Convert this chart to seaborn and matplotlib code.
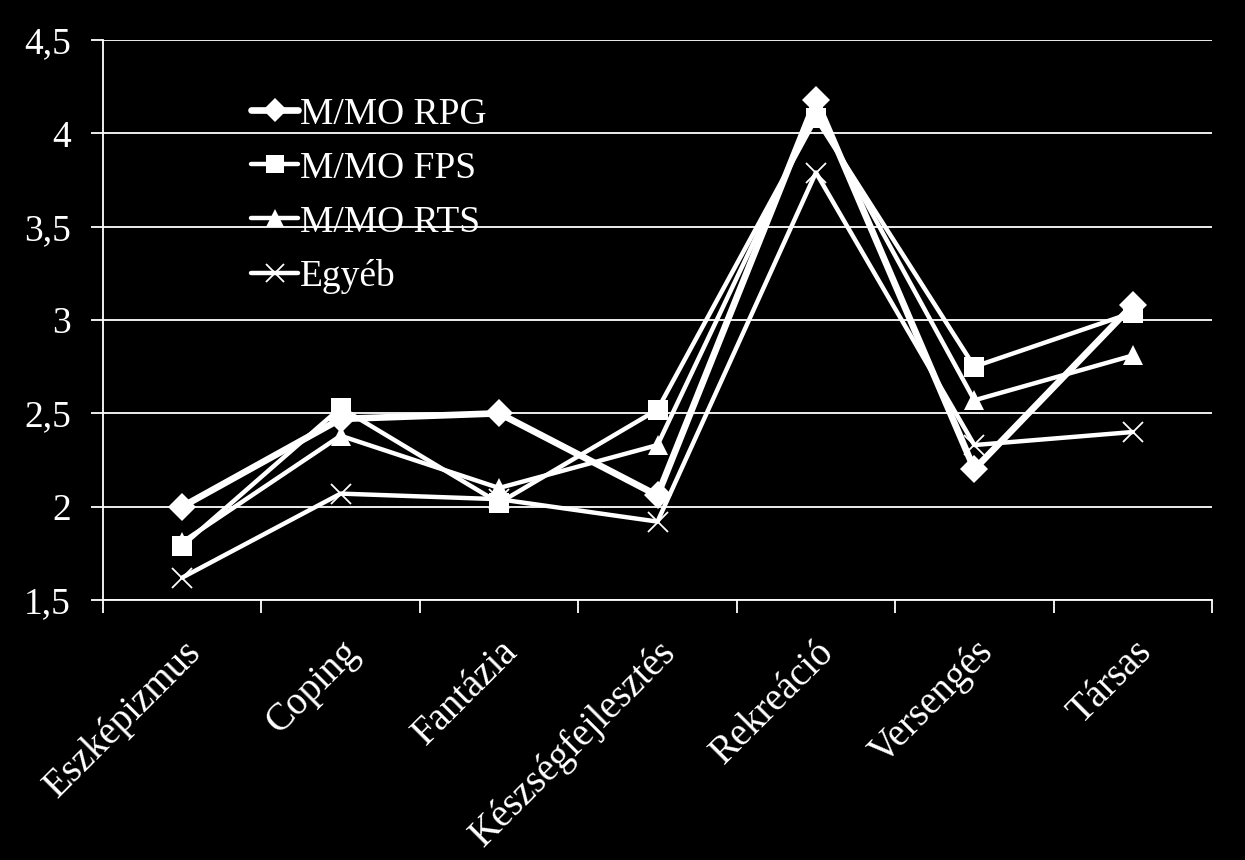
import numpy as np
import pandas as pd
import matplotlib
matplotlib.use("Agg")
import matplotlib.pyplot as plt
import seaborn as sns

categories = ["Eszképizmus", "Coping", "Fantázia", "Készségfejlesztés",
              "Rekreáció", "Versengés", "Társas"]
rpg = [2.00, 2.47, 2.50, 2.06, 4.18, 2.20, 3.08]
fps = [1.79, 2.53, 2.02, 2.52, 4.08, 2.75, 3.04]
rts = [1.81, 2.38, 2.10, 2.33, 4.12, 2.57, 2.81]
egyeb = [1.62, 2.07, 2.04, 1.92, 3.79, 2.33, 2.40]
series_names = ["M/MO RPG", "M/MO FPS", "M/MO RTS", "Egyéb"]
y_ticks = [1.5, 2, 2.5, 3, 3.5, 4, 4.5]
y_tick_labels = ["1,5", "2", "2,5", "3", "3,5", "4", "4,5"]

sns.set_theme(style="white")
plt.rcParams["font.family"] = ["Liberation Serif", "DejaVu Serif"]

pos = np.arange(len(categories))
frames = []
for name, vals in zip(series_names, [rpg, fps, rts, egyeb]):
    frames.append(pd.DataFrame({"x": pos, "y": vals, "series": name}))
df = pd.concat(frames, ignore_index=True)

fig = plt.figure(figsize=(12.45, 8.6), dpi=100, facecolor="black")
ax = fig.add_axes([103 / 1245, 1 - 600 / 860, (1212 - 103) / 1245, (600 - 40) / 860])
ax.set_facecolor("black")

styles = {
    "M/MO RPG": dict(marker="D", markersize=14, lw=4.8, mew=0),
    "M/MO FPS": dict(marker="s", markersize=14, lw=3.2, mew=0),
    "M/MO RTS": dict(marker="^", markersize=15, lw=3.2, mew=0),
    "Egyéb": dict(marker="x", markersize=15, lw=3.2, mew=1.3),
}
for name in series_names:
    st = styles[name]
    sub = df[df["series"] == name]
    sns.lineplot(data=sub, x="x", y="y", ax=ax, color="white", lw=st["lw"],
                 marker=st["marker"], markersize=st["markersize"],
                 markeredgewidth=st["mew"], markeredgecolor="white",
                 markerfacecolor="white", label=name, sort=False,
                 errorbar=None)

ax.set_xlim(-0.5, len(categories) - 0.5)
ax.set_ylim(1.5, 4.5)
ax.set_yticks(y_ticks)
ax.set_yticklabels(y_tick_labels)
ax.yaxis.grid(True, color="white", lw=1.3)
ax.xaxis.grid(False)

ax.set_xticks(pos)
ax.set_xticklabels(categories, rotation=45, ha="right", rotation_mode="anchor")
ax.set_xticks(np.arange(len(categories) + 1) - 0.5, minor=True)
ax.tick_params(axis="x", which="major", bottom=True, length=0, pad=24,
               labelsize=28, colors="white")
ax.tick_params(axis="x", which="minor", bottom=True, length=9, width=1.3,
               color="white", direction="out")
ax.tick_params(axis="y", which="major", left=True, length=9, width=1.3,
               color="white", direction="out", labelsize=27,
               labelcolor="white", pad=14)
ax.set_xlabel("")
ax.set_ylabel("")

for s in ["top", "right"]:
    ax.spines[s].set_visible(False)
for s in ["left", "bottom"]:
    ax.spines[s].set_color("white")
    ax.spines[s].set_linewidth(1.3)

leg = ax.legend(loc="upper left", bbox_to_anchor=(0.12, 0.925), frameon=False,
                fontsize=27, labelcolor="white", handlelength=1.25,
                handletextpad=0.05, labelspacing=0.52, borderaxespad=0,
                markerscale=0.9)

fig.savefig("out.png", dpi=100, facecolor="black")
